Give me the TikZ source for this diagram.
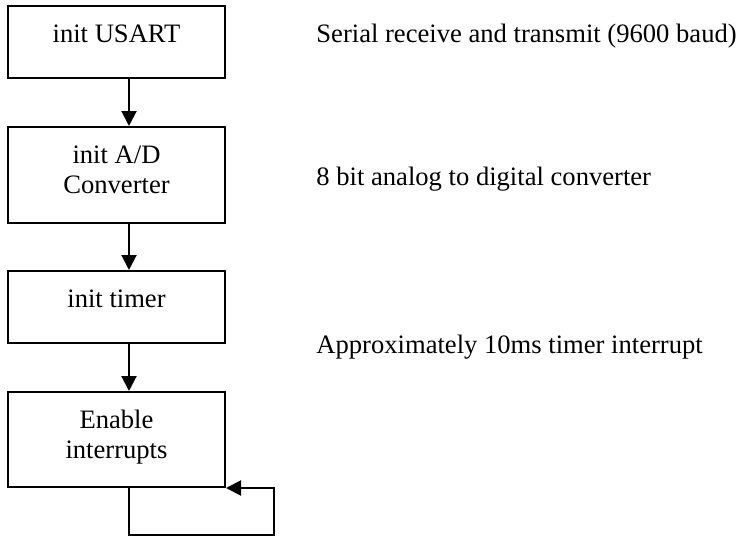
\documentclass[tikz,border=0pt]{standalone}
\usepackage{fontspec}
\setmainfont{Liberation Serif}
\usepackage{tikz}
\usetikzlibrary{arrows.meta,calc}

\begin{document}
\begin{tikzpicture}[x=0.5pt,y=-0.5pt,
  font=\fontsize{13.3}{15}\selectfont,
  stepbox/.style={draw,line width=1pt,minimum width=108.5pt,inner sep=0pt,align=center},
  note/.style={anchor=base west,inner sep=0pt},
  flow/.style={line width=1pt,-{Triangle[length=7.5pt,width=7.5pt]}}]
\useasboundingbox (0,0) rectangle (740,536);
\node[stepbox,text height=18pt,text depth=18pt] (usart) at (116.5,42) {init USART};
\node[stepbox,text height=33pt,text depth=15pt] (adc) at (116.5,175) {init A/D\\Converter};
\node[stepbox,text height=18pt,text depth=18pt] (timer) at (116.5,307) {init timer};
\node[stepbox,text height=33pt,text depth=14.5pt] (irq) at (116.5,439.5) {Enable\\interrupts};
\node[note] (usartnote) at (316,42) {Serial receive and transmit (9600 baud)};
\node[note] (adcnote) at (316,185) {8 bit analog to digital converter};
\node[note] (timernote) at (316,353) {Approximately 10ms timer interrupt};
\draw[flow] ([xshift=6.25pt]usart.south) -- ([xshift=6.25pt]adc.north);
\draw[flow] ([xshift=6.25pt]adc.south) -- ([xshift=6.25pt]timer.north);
\draw[flow] ([xshift=6.25pt]timer.south) -- ([xshift=6.25pt]irq.north);
% endless loop
\draw[flow] ([xshift=6.25pt]irq.south) |- ([xshift=24pt,yshift=-23.5pt]irq.south east) |- (irq.south east);
\end{tikzpicture}
\end{document}
